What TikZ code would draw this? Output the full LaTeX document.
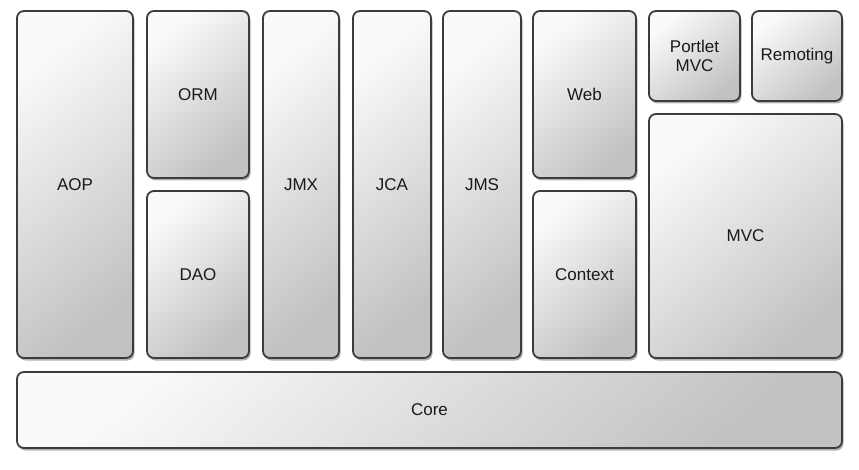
\documentclass[tikz,border=0pt]{standalone}
\usepackage{fontspec}
\setmainfont{Liberation Sans}
\usepackage{tikz}
\usetikzlibrary{shadows}

\definecolor{boxlight}{HTML}{FAFAFA}
\definecolor{boxdark}{HTML}{C2C2C2}
\definecolor{boxline}{HTML}{3C3C3C}

\tikzset{
  module/.style={draw=boxline, line width=1.8pt, rounded corners=7pt,
    top color=boxlight, bottom color=boxdark, shading angle=40,
    drop shadow={shadow xshift=1.5pt, shadow yshift=-2.5pt, fill=black, opacity=0.3},
    align=center, text=black!90, inner sep=0pt,
    font=\fontsize{17}{19}\selectfont}
}

\begin{document}
\begin{tikzpicture}[x=1pt, y=-1pt]
          \useasboundingbox (0,0) rectangle (859,470);
          % left column
          \node[module, minimum width=116pt, minimum height=347pt] (aop) at (75,184.5) {AOP};
          \node[module, minimum width=102pt, minimum height=167pt] (orm) at (198,94.5) {ORM};
          \node[module, minimum width=102pt, minimum height=167pt] (dao) at (198,274.5) {DAO};
          % tall middle modules
          \node[module, minimum width=76pt, minimum height=347pt] (jmx) at (301,184.5) {JMX};
          \node[module, minimum width=78pt, minimum height=347pt] (jca) at (392,184.5) {JCA};
          \node[module, minimum width=78pt, minimum height=347pt] (jms) at (482,184.5) {JMS};
          % web and context
          \node[module, minimum width=103pt, minimum height=167pt] (web) at (584.5,94.5) {Web};
          \node[module, minimum width=103pt, minimum height=167pt] (context) at (584.5,274.5) {Context};
          % web mvc stack
          \node[module, minimum width=91pt, minimum height=90pt] (portlet) at (694.5,56) {Portlet\\MVC};
          \node[module, minimum width=90pt, minimum height=90pt] (remoting) at (797,56) {Remoting};
          \node[module, minimum width=193pt, minimum height=244pt] (mvc) at (745.5,236) {MVC};
          % core underneath
          \node[module, minimum width=825pt, minimum height=76pt] (core) at (429.5,410) {Core};
\end{tikzpicture}
\end{document}
